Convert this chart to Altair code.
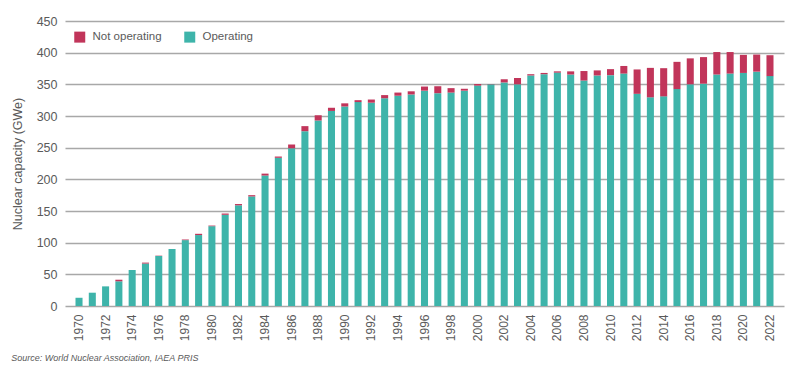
import altair as alt
import pandas as pd

years = list(range(1970, 2023))
operating = [13, 21, 31, 39, 57, 67, 79, 90, 104, 112,
             126, 144, 159, 173, 206, 234, 249, 276, 293, 308,
             315, 322, 321, 328, 332, 334, 340, 336, 337, 340,
             348, 350, 353, 350, 364, 366, 368.5, 365.5, 356, 364,
             364.5, 367, 335, 329.5, 331, 342.5, 350, 351, 365.5, 367,
             368, 370, 363]
not_operating = [0, 0, 0, 2.5, 0, 1.5, 0.5, 0, 1, 2,
                 1, 2, 2, 2, 3, 2, 6, 8, 8, 5,
                 5, 3, 5, 5, 5, 5, 6.5, 11, 7, 3,
                 2.5, 0.5, 5, 10, 2, 2, 2, 5, 15, 8,
                 9.5, 12, 38.5, 46.5, 44.5, 43, 41, 42, 35.5, 34,
                 28.5, 27, 33]
series = ["Not operating", "Operating"]
colors = ["#C1355A", "#3EB4AA"]
tick_years = list(range(1970, 2023, 2))

rows = []
for y, o, n in zip(years, operating, not_operating):
    rows.append({"year": y, "status": "Operating", "value": o, "ord": 0})
    rows.append({"year": y, "status": "Not operating", "value": n, "ord": 1})
df = pd.DataFrame(rows)

font = "Liberation Sans"
gray = "#5a5a5a"

chart = alt.Chart(df).mark_bar().encode(
    x=alt.X("year:O",
            scale=alt.Scale(paddingInner=0.47, paddingOuter=0.79),
            axis=alt.Axis(title=None, values=tick_years, labelAngle=270,
                          labelFontSize=12, labelColor=gray, labelFont=font,
                          ticks=False, domain=False, labelPadding=8)),
    y=alt.Y("value:Q", stack="zero",
            scale=alt.Scale(domain=[0, 450]),
            axis=alt.Axis(title="Nuclear capacity (GWe)", values=list(range(0, 451, 50)),
                          labelFontSize=12.5, labelColor=gray, labelFont=font,
                          titleFontSize=12.5, titleColor=gray, titleFont=font,
                          titleFontWeight="normal", titlePadding=12,
                          ticks=False, domain=False, labelPadding=8,
                          gridColor="#A8A8A8", gridWidth=1.3)),
    color=alt.Color("status:N",
                    scale=alt.Scale(domain=series, range=colors),
                    legend=alt.Legend(title=None, orient="none", legendX=9, legendY=10,
                                      direction="horizontal", symbolType="square",
                                      symbolSize=121, symbolStrokeWidth=0,
                                      labelFontSize=11.5, labelColor=gray, labelFont=font,
                                      columnPadding=22, labelOffset=7)),
    order=alt.Order("ord:Q"),
).properties(
    width=719,
    height=285,
    padding={"left": 3, "top": 7, "right": 5, "bottom": 5},
    title=alt.TitleParams(text="Source: World Nuclear Association, IAEA PRIS",
                          orient="bottom", anchor="start", fontSize=9,
                          fontStyle="italic", fontWeight="normal", color=gray,
                          font=font, offset=13),
).configure_view(stroke=None)

chart.save("out.html", embed_options={"renderer": "svg", "actions": False})
